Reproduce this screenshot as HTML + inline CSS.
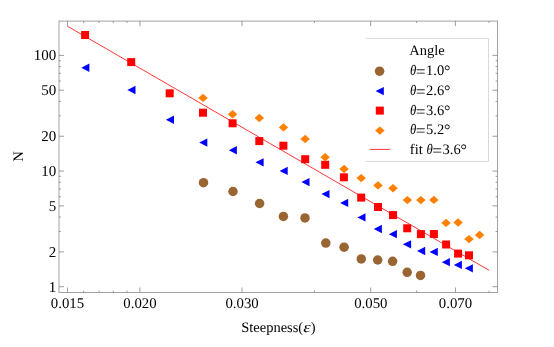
<!DOCTYPE html>
<html><head><meta charset="utf-8"><title>plot</title><style>html,body{margin:0;padding:0;background:#fff;width:554px;height:347px;overflow:hidden}</style></head><body>
<svg width="554" height="347" viewBox="0 0 554 347" style="display:block;position:absolute;left:0;top:0;will-change:transform;opacity:0.999">
<rect x="0" y="0" width="554" height="347" fill="#fff"/>
<line x1="67.4" y1="26.2" x2="489.1" y2="270.3" stroke="#ff2020" stroke-width="0.9"/>
<circle cx="203.5" cy="182.7" r="4.75" fill="#996633"/>
<circle cx="233.0" cy="191.5" r="4.75" fill="#996633"/>
<circle cx="259.6" cy="203.5" r="4.75" fill="#996633"/>
<circle cx="283.4" cy="216.4" r="4.75" fill="#996633"/>
<circle cx="305.0" cy="217.9" r="4.75" fill="#996633"/>
<circle cx="325.8" cy="243.1" r="4.75" fill="#996633"/>
<circle cx="344.1" cy="247.2" r="4.75" fill="#996633"/>
<circle cx="361.3" cy="258.9" r="4.75" fill="#996633"/>
<circle cx="377.7" cy="260.0" r="4.75" fill="#996633"/>
<circle cx="392.6" cy="261.3" r="4.75" fill="#996633"/>
<circle cx="407.2" cy="272.3" r="4.75" fill="#996633"/>
<circle cx="420.5" cy="275.4" r="4.75" fill="#996633"/>
<path d="M81.3 67.7L89.4 63.6L89.4 71.9Z" fill="#0000ff"/>
<path d="M127.4 90.0L135.5 85.8L135.5 94.2Z" fill="#0000ff"/>
<path d="M165.9 119.8L174.0 115.6L174.0 124.0Z" fill="#0000ff"/>
<path d="M199.2 142.6L207.3 138.5L207.3 146.8Z" fill="#0000ff"/>
<path d="M228.8 150.2L236.9 146.1L236.9 154.4Z" fill="#0000ff"/>
<path d="M255.5 162.3L263.6 158.2L263.6 166.5Z" fill="#0000ff"/>
<path d="M279.6 170.9L287.7 166.8L287.7 175.1Z" fill="#0000ff"/>
<path d="M301.4 182.1L309.5 178.0L309.5 186.3Z" fill="#0000ff"/>
<path d="M321.4 194.1L329.5 190.0L329.5 198.3Z" fill="#0000ff"/>
<path d="M340.1 202.9L348.2 198.8L348.2 207.1Z" fill="#0000ff"/>
<path d="M357.4 217.4L365.5 213.2L365.5 221.6Z" fill="#0000ff"/>
<path d="M373.8 229.0L381.9 224.8L381.9 233.2Z" fill="#0000ff"/>
<path d="M388.8 234.2L396.9 230.0L396.9 238.3Z" fill="#0000ff"/>
<path d="M402.9 244.3L411.1 240.2L411.1 248.5Z" fill="#0000ff"/>
<path d="M417.1 251.0L425.2 246.8L425.2 255.2Z" fill="#0000ff"/>
<path d="M429.6 252.0L437.8 247.8L437.8 256.1Z" fill="#0000ff"/>
<path d="M441.8 262.2L449.9 258.1L449.9 266.3Z" fill="#0000ff"/>
<path d="M453.8 264.9L461.9 260.8L461.9 269.0Z" fill="#0000ff"/>
<path d="M464.8 268.3L472.9 264.2L472.9 272.4Z" fill="#0000ff"/>
<rect x="81.1" y="31.0" width="8.0" height="8.0" fill="#ff0000"/>
<rect x="127.2" y="58.1" width="8.0" height="8.0" fill="#ff0000"/>
<rect x="165.7" y="89.3" width="8.0" height="8.0" fill="#ff0000"/>
<rect x="199.0" y="108.7" width="8.0" height="8.0" fill="#ff0000"/>
<rect x="228.6" y="119.3" width="8.0" height="8.0" fill="#ff0000"/>
<rect x="255.3" y="137.1" width="8.0" height="8.0" fill="#ff0000"/>
<rect x="279.4" y="141.7" width="8.0" height="8.0" fill="#ff0000"/>
<rect x="301.2" y="155.2" width="8.0" height="8.0" fill="#ff0000"/>
<rect x="321.2" y="160.8" width="8.0" height="8.0" fill="#ff0000"/>
<rect x="339.9" y="173.3" width="8.0" height="8.0" fill="#ff0000"/>
<rect x="357.2" y="193.6" width="8.0" height="8.0" fill="#ff0000"/>
<rect x="374.0" y="203.0" width="8.0" height="8.0" fill="#ff0000"/>
<rect x="389.0" y="211.1" width="8.0" height="8.0" fill="#ff0000"/>
<rect x="403.2" y="224.3" width="8.0" height="8.0" fill="#ff0000"/>
<rect x="416.9" y="230.1" width="8.0" height="8.0" fill="#ff0000"/>
<rect x="429.9" y="230.0" width="8.0" height="8.0" fill="#ff0000"/>
<rect x="442.1" y="240.5" width="8.0" height="8.0" fill="#ff0000"/>
<rect x="454.1" y="249.6" width="8.0" height="8.0" fill="#ff0000"/>
<rect x="465.0" y="251.3" width="8.0" height="8.0" fill="#ff0000"/>
<path d="M198.2 97.9L203.0 93.7L207.8 97.9L203.0 102.1Z" fill="#ff8000"/>
<path d="M227.8 114.2L232.6 110.0L237.3 114.2L232.6 118.4Z" fill="#ff8000"/>
<path d="M254.6 118.0L259.3 113.8L264.1 118.0L259.3 122.2Z" fill="#ff8000"/>
<path d="M278.8 127.4L283.5 123.2L288.2 127.4L283.5 131.6Z" fill="#ff8000"/>
<path d="M300.4 139.0L305.2 134.8L309.9 139.0L305.2 143.2Z" fill="#ff8000"/>
<path d="M320.4 157.2L325.2 153.0L329.9 157.2L325.2 161.4Z" fill="#ff8000"/>
<path d="M339.3 169.0L344.1 164.8L348.8 169.0L344.1 173.2Z" fill="#ff8000"/>
<path d="M356.4 178.1L361.2 173.9L365.9 178.1L361.2 182.3Z" fill="#ff8000"/>
<path d="M373.2 185.4L378.0 181.2L382.8 185.4L378.0 189.6Z" fill="#ff8000"/>
<path d="M388.2 188.3L393.0 184.1L397.8 188.3L393.0 192.5Z" fill="#ff8000"/>
<path d="M402.6 200.1L407.4 195.9L412.1 200.1L407.4 204.3Z" fill="#ff8000"/>
<path d="M416.1 200.1L420.9 195.9L425.6 200.1L420.9 204.3Z" fill="#ff8000"/>
<path d="M429.1 199.9L433.8 195.7L438.6 199.9L433.8 204.1Z" fill="#ff8000"/>
<path d="M441.3 222.9L446.1 218.7L450.8 222.9L446.1 227.1Z" fill="#ff8000"/>
<path d="M453.3 222.5L458.1 218.3L462.8 222.5L458.1 226.7Z" fill="#ff8000"/>
<path d="M464.2 239.1L469.0 234.9L473.8 239.1L469.0 243.3Z" fill="#ff8000"/>
<path d="M474.8 235.0L479.6 230.8L484.3 235.0L479.6 239.2Z" fill="#ff8000"/>
<g stroke="#a2a2a2" fill="none">
<line x1="59.0" y1="20.62" x2="59.0" y2="293.0" stroke-width="1"/>
<line x1="497.5" y1="20.62" x2="497.5" y2="293.0" stroke-width="1"/>
<line x1="59.0" y1="21.12" x2="497.5" y2="21.12" stroke-width="1"/>
<line x1="59.0" y1="292.5" x2="497.5" y2="292.5" stroke-width="1"/>
</g>
<g stroke="#7c7c7c" stroke-width="0.75">
<line x1="67.45" y1="292.5" x2="67.45" y2="287.5"/><line x1="67.45" y1="21.12" x2="67.45" y2="26.12"/>
<line x1="139.90" y1="292.5" x2="139.90" y2="287.5"/><line x1="139.90" y1="21.12" x2="139.90" y2="26.12"/>
<line x1="242.02" y1="292.5" x2="242.02" y2="287.5"/><line x1="242.02" y1="21.12" x2="242.02" y2="26.12"/>
<line x1="370.67" y1="292.5" x2="370.67" y2="287.5"/><line x1="370.67" y1="21.12" x2="370.67" y2="26.12"/>
<line x1="455.41" y1="292.5" x2="455.41" y2="287.5"/><line x1="455.41" y1="21.12" x2="455.41" y2="26.12"/>
<line x1="83.70" y1="292.5" x2="83.70" y2="290.6"/><line x1="83.70" y1="21.12" x2="83.70" y2="23.02"/>
<line x1="98.97" y1="292.5" x2="98.97" y2="290.6"/><line x1="98.97" y1="21.12" x2="98.97" y2="23.02"/>
<line x1="113.37" y1="292.5" x2="113.37" y2="290.6"/><line x1="113.37" y1="21.12" x2="113.37" y2="23.02"/>
<line x1="126.98" y1="292.5" x2="126.98" y2="290.6"/><line x1="126.98" y1="21.12" x2="126.98" y2="23.02"/>
<line x1="314.47" y1="292.5" x2="314.47" y2="290.6"/><line x1="314.47" y1="21.12" x2="314.47" y2="23.02"/>
<line x1="416.59" y1="292.5" x2="416.59" y2="290.6"/><line x1="416.59" y1="21.12" x2="416.59" y2="23.02"/>
<line x1="489.04" y1="292.5" x2="489.04" y2="290.6"/><line x1="489.04" y1="21.12" x2="489.04" y2="23.02"/>
<line x1="59.0" y1="286.70" x2="64.0" y2="286.70"/><line x1="497.5" y1="286.70" x2="492.5" y2="286.70"/>
<line x1="59.0" y1="251.89" x2="64.0" y2="251.89"/><line x1="497.5" y1="251.89" x2="492.5" y2="251.89"/>
<line x1="59.0" y1="205.86" x2="64.0" y2="205.86"/><line x1="497.5" y1="205.86" x2="492.5" y2="205.86"/>
<line x1="59.0" y1="171.05" x2="64.0" y2="171.05"/><line x1="497.5" y1="171.05" x2="492.5" y2="171.05"/>
<line x1="59.0" y1="136.24" x2="64.0" y2="136.24"/><line x1="497.5" y1="136.24" x2="492.5" y2="136.24"/>
<line x1="59.0" y1="90.21" x2="64.0" y2="90.21"/><line x1="497.5" y1="90.21" x2="492.5" y2="90.21"/>
<line x1="59.0" y1="55.40" x2="64.0" y2="55.40"/><line x1="497.5" y1="55.40" x2="492.5" y2="55.40"/>
<line x1="59.0" y1="231.52" x2="60.9" y2="231.52"/><line x1="497.5" y1="231.52" x2="495.6" y2="231.52"/>
<line x1="59.0" y1="217.07" x2="60.9" y2="217.07"/><line x1="497.5" y1="217.07" x2="495.6" y2="217.07"/>
<line x1="59.0" y1="196.71" x2="60.9" y2="196.71"/><line x1="497.5" y1="196.71" x2="495.6" y2="196.71"/>
<line x1="59.0" y1="188.96" x2="60.9" y2="188.96"/><line x1="497.5" y1="188.96" x2="495.6" y2="188.96"/>
<line x1="59.0" y1="182.26" x2="60.9" y2="182.26"/><line x1="497.5" y1="182.26" x2="495.6" y2="182.26"/>
<line x1="59.0" y1="176.34" x2="60.9" y2="176.34"/><line x1="497.5" y1="176.34" x2="495.6" y2="176.34"/>
<line x1="59.0" y1="115.87" x2="60.9" y2="115.87"/><line x1="497.5" y1="115.87" x2="495.6" y2="115.87"/>
<line x1="59.0" y1="101.42" x2="60.9" y2="101.42"/><line x1="497.5" y1="101.42" x2="495.6" y2="101.42"/>
<line x1="59.0" y1="81.06" x2="60.9" y2="81.06"/><line x1="497.5" y1="81.06" x2="495.6" y2="81.06"/>
<line x1="59.0" y1="73.31" x2="60.9" y2="73.31"/><line x1="497.5" y1="73.31" x2="495.6" y2="73.31"/>
<line x1="59.0" y1="66.61" x2="60.9" y2="66.61"/><line x1="497.5" y1="66.61" x2="495.6" y2="66.61"/>
<line x1="59.0" y1="60.69" x2="60.9" y2="60.69"/><line x1="497.5" y1="60.69" x2="495.6" y2="60.69"/>
</g>
<rect x="365.7" y="38.4" width="122.8" height="123" fill="#fff"/>
<path d="M365.7 38.4H488.5V161.4H365.7" fill="none" stroke="#d9d9d9" stroke-width="1"/>
<circle cx="379.6" cy="71.2" r="4.75" fill="#996633"/>
<path d="M375.6 91.1L383.8 86.9L383.8 95.2Z" fill="#0000ff"/>
<rect x="375.8" y="106.6" width="8.0" height="8.0" fill="#ff0000"/>
<path d="M375.1 130.6L379.8 126.4L384.6 130.6L379.8 134.8Z" fill="#ff8000"/>
<line x1="369.8" y1="149.4" x2="390" y2="149.4" stroke="#ff2020" stroke-width="0.9"/>
<g font-family="Liberation Serif, serif" font-size="14.5" fill="#000" text-rendering="geometricPrecision">
<text x="67.5" y="308.35" text-anchor="middle" font-size="14.8">0.015</text>
<text x="140.0" y="308.35" text-anchor="middle" font-size="14.8">0.020</text>
<text x="242.1" y="308.35" text-anchor="middle" font-size="14.8">0.030</text>
<text x="370.8" y="308.35" text-anchor="middle" font-size="14.8">0.050</text>
<text x="455.5" y="308.35" text-anchor="middle" font-size="14.8">0.070</text>
<text x="56.2" y="291.75" text-anchor="end" font-size="15">1</text>
<text x="56.2" y="256.85" text-anchor="end" font-size="15">2</text>
<text x="56.2" y="210.75" text-anchor="end" font-size="15">5</text>
<text x="56.2" y="176.1" text-anchor="end" font-size="15">10</text>
<text x="56.2" y="141.4" text-anchor="end" font-size="15">20</text>
<text x="56.2" y="95.4" text-anchor="end" font-size="15">50</text>
<text x="56.2" y="59.8" text-anchor="end" font-size="15">100</text>
<text x="241.2" y="332.3">Steepness(</text>
<text transform="translate(303.3,332.3) scale(1.3,1.04)" font-style="italic">ε</text>
<text x="310.8" y="332.3">)</text>
<text transform="translate(23.1,156.5) rotate(-90)" text-anchor="middle">N</text>
<text x="409.3" y="54.6">Angle</text>
<text transform="translate(409.90,74.8) scale(0.88,1)" font-style="italic">θ</text><text transform="translate(415.90,76.94) scale(1.15,1.146)" stroke="#000" stroke-width="0.1">=</text><text x="426.10" y="74.8">1.0</text><text x="444.10" y="75.9" font-size="16">°</text>
<text transform="translate(409.90,94.7) scale(0.88,1)" font-style="italic">θ</text><text transform="translate(415.90,96.79) scale(1.15,1.146)" stroke="#000" stroke-width="0.1">=</text><text x="426.10" y="94.7">2.6</text><text x="444.10" y="95.8" font-size="16">°</text>
<text transform="translate(409.90,114.5) scale(0.88,1)" font-style="italic">θ</text><text transform="translate(415.90,116.64) scale(1.15,1.146)" stroke="#000" stroke-width="0.1">=</text><text x="426.10" y="114.5">3.6</text><text x="444.10" y="115.6" font-size="16">°</text>
<text transform="translate(409.90,134.3) scale(0.88,1)" font-style="italic">θ</text><text transform="translate(415.90,136.49) scale(1.15,1.146)" stroke="#000" stroke-width="0.1">=</text><text x="426.10" y="134.3">5.2</text><text x="444.10" y="135.4" font-size="16">°</text>
<text x="409.8" y="154.2">fit</text>
<text transform="translate(426.40,154.2) scale(0.88,1)" font-style="italic">θ</text><text transform="translate(432.40,156.34) scale(1.15,1.146)" stroke="#000" stroke-width="0.1">=</text><text x="442.60" y="154.2">3.6</text><text x="460.60" y="155.3" font-size="16">°</text>
</g>
</svg>
</body></html>
